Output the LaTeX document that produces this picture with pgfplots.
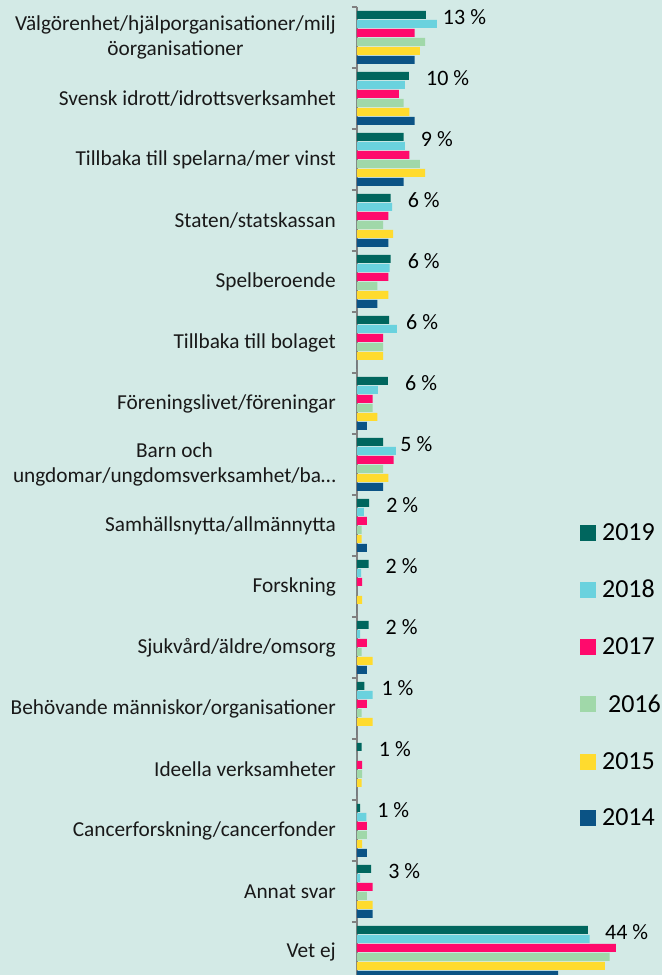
\documentclass[border=0pt]{standalone}
\usepackage{pgfplots}
\pgfplotsset{compat=1.18}
\usepackage{fontspec}
\setmainfont{Carlito}
\definecolor{bg}{HTML}{D3EAE6}
\definecolor{c19}{HTML}{00665E}
\definecolor{c18}{HTML}{6AD2DE}
\definecolor{c17}{HTML}{FF0A6C}
\definecolor{c16}{HTML}{A0D8A9}
\definecolor{c15}{HTML}{FFDB2E}
\definecolor{c14}{HTML}{0B5385}
\pgfplotsset{sqlegend/.style={legend image code/.code={\fill[##1] (0bp,-8.2bp) rectangle (16bp,7.8bp);}}}
\begin{document}
\begin{tikzpicture}
\fill[bg] (-357bp,0) rectangle (305bp,975bp);
\begin{axis}[
  at={(0,0)}, anchor=south west,
  scale only axis, width=304.5bp, height=968bp,
  xmin=0, xmax=58, ymin=-0.5, ymax=15.37,
  y dir=reverse,
  xbar=1bp, bar width=8bp,
  sqlegend,
  axis x line=none, axis y line*=left,
  y axis line style={draw=gray, line width=1.2bp},
  ytick={0,...,15},
  yticklabels={
    Välgörenhet/hjälporganisationer/milj\\öorganisationer,
    Svensk idrott/idrottsverksamhet,
    Tillbaka till spelarna/mer vinst,
    Staten/statskassan,
    Spelberoende,
    Tillbaka till bolaget,
    Föreningslivet/föreningar,
    Barn och\\ungdomar/ungdomsverksamhet/ba…,
    Samhällsnytta/allmännytta,
    Forskning,
    Sjukvård/äldre/omsorg,
    Behövande människor/organisationer,
    Ideella verksamheter,
    Cancerforskning/cancerfonder,
    Annat svar,
    Vet ej},
  major tick length=0pt,
  minor ytick={-0.5,0.5,...,14.5},
  minor tick length=5bp,
  tick align=outside,
  tick style={draw=gray, line width=1.2bp},
  yticklabel style={font=\fontsize{21.3bp}{25.5bp}\selectfont, align=center, inner sep=0pt, xshift=-21bp, text=black!90},
  legend style={at={(axis description cs:0.732,0.467)}, anchor=north west, draw=none, fill=none, inner sep=0pt,
    row sep=38.5bp, font=\fontsize{26bp}{30bp}\selectfont, nodes={inner sep=0pt},
    /tikz/every odd column/.append style={column sep=6bp}},
  legend cell align=left,
  reverse legend,
]
\addplot[fill=c14, draw=none] coordinates {(11.0,0) (11.0,1) (8.9,2) (6.0,3) (3.9,4) (0,5) (1.9,6) (5.0,7)
  (1.9,8) (0,9) (1.9,10) (0,11) (0,12) (1.9,13) (3.0,14) (38.3,15)};
\addplot[fill=c15, draw=none] coordinates {(12.0,0) (10.0,1) (13.0,2) (6.9,3) (6.0,4) (5.0,5) (3.9,6) (6.0,7)
  (0.9,8) (1.0,9) (3.0,10) (3.0,11) (0.9,12) (1.0,13) (3.0,14) (47.2,15)};
\addplot[fill=c16, draw=none] coordinates {(13.0,0) (8.9,1) (12.0,2) (5.0,3) (3.9,4) (5.0,5) (3.0,6) (5.0,7)
  (0.9,8) (0,9) (0.9,10) (0.9,11) (1.0,12) (1.9,13) (1.9,14) (48.1,15)};
\addplot[fill=c17, draw=none] coordinates {(11.0,0) (8.0,1) (10.0,2) (6.0,3) (6.0,4) (5.0,5) (3.0,6) (7.0,7)
  (1.9,8) (1.0,9) (1.9,10) (1.9,11) (1.0,12) (1.9,13) (3.0,14) (49.3,15)};
\addplot[fill=c18, draw=none] coordinates {(15.2,0) (9.1,1) (9.1,2) (6.7,3) (6.2,4) (7.6,5) (4.0,6) (7.4,7)
  (1.3,8) (0.8,9) (0.6,10) (3.0,11) (0,12) (1.8,13) (0.6,14) (44.3,15)};
\addplot[fill=c19, draw=none, point meta=explicit symbolic,
  nodes near coords={\pgfplotspointmeta~\%},
  every node near coord/.append style={font=\fontsize{22bp}{26bp}\selectfont, anchor=west, inner sep=0pt, xshift=17bp, yshift=-2bp, text=black}]
  coordinates {(13.1,0)[13] (9.9,1)[10] (8.9,2)[9] (6.4,3)[6] (6.4,4)[6] (6.1,5)[6] (5.9,6)[6] (5.0,7)[5]
  (2.3,8)[2] (2.2,9)[2] (2.2,10)[2] (1.4,11)[1] (0.9,12)[1] (0.6,13)[1] (2.7,14)[3] (44.0,15)[44]};
\legend{2014,2015,\hspace*{6bp}2016,2017,2018,2019}
\end{axis}
\pgfresetboundingbox
\useasboundingbox (-357bp,0) rectangle (305bp,975bp);
\end{tikzpicture}
\end{document}
